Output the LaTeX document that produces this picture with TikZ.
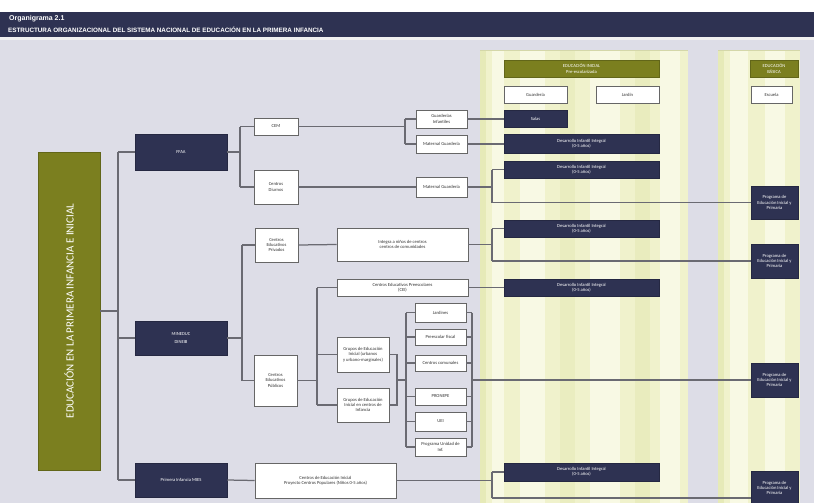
\documentclass[tikz,border=0pt]{standalone}
\usepackage{fontspec}
\setmainfont{Carlito}
\newfontfamily\hdrfont{Liberation Sans}
\usetikzlibrary{calc}
\definecolor{navy}{HTML}{2E3252}
\definecolor{olivegr}{HTML}{7B7F1F}
\definecolor{bgl}{HTML}{DDDDE7}
\definecolor{linec}{HTML}{6A6A72}
\definecolor{colA}{HTML}{F0F2CC}
\definecolor{colB}{HTML}{F8F9E4}
\definecolor{colC}{HTML}{E6EAB8}
\begin{document}
\begin{tikzpicture}[x=1pt,y=-1pt,
  box/.style={inner sep=0pt, align=center, font=\fontsize{4.6}{5.4}\selectfont},
  dark/.style={box, fill=navy, text=white, draw=navy!80!black, line width=0.5pt},
  wbox/.style={box, fill=white, draw=gray!80!black, line width=0.9pt, text=black!80},
  gbox/.style={box, fill=olivegr, text=white, draw=olivegr!80!black, line width=0.5pt},
  conn/.style={draw=linec, line width=1.25pt}]
\useasboundingbox (0,0) rectangle (814,503);
% background
\fill[white] (0,0) rectangle (814,503);
\fill[bgl] (0,40) rectangle (814,503);
\fill[navy] (0,12) rectangle (814,37);
\fill[gray!12] (0,37) rectangle (814,40);
% column 1
\fill[colA] (480,50) rectangle (688,503);
\fill[colC] (480,50) rectangle (486,503);
\fill[colB] (492,50) rectangle (504,503);
\fill[colB] (520,50) rectangle (545,503);
\fill[colC!60!colA] (560,50) rectangle (575,503);
\fill[colB] (590,50) rectangle (620,503);
\fill[colC!70!colA] (635,50) rectangle (650,503);
\fill[colB] (660,50) rectangle (680,503);
\draw[colC!80!black!40!colC, line width=0.6pt] (480,50) -- (688,50);
% column 2
\fill[colA] (718,50) rectangle (800,503);
\fill[colC] (718,50) rectangle (724,503);
\fill[colB] (730,50) rectangle (748,503);
\fill[colB] (765,50) rectangle (785,503);
\draw[colC!80!black!40!colC, line width=0.6pt] (718,50) -- (800,50);
% header
\node[anchor=west, text=white, inner sep=0pt, font=\hdrfont\bfseries\fontsize{7}{8}\selectfont] (title) at (9,19) {Organigrama 2.1};
\node[anchor=west, text=white, inner sep=0pt, font=\hdrfont\bfseries\fontsize{6.3}{7}\selectfont] (subtitle) at (8,30) {ESTRUCTURA ORGANIZACIONAL DEL SISTEMA NACIONAL DE EDUCACIÓN EN LA PRIMERA INFANCIA};
% main
\node[gbox, minimum width=62, minimum height=318] (main) at (69,311) {\rotatebox{90}{\fontsize{11}{12}\selectfont EDUCACIÓN EN LA PRIMERA INFANCIA E INICIAL}};
% level 1
\node[dark, minimum width=92, minimum height=36] (ffaa) at (181,152) {FFAA};
\node[dark, minimum width=92, minimum height=34] (mined) at (181,338) {MINEDUC\\[2pt]DINEIB};
\node[dark, minimum width=92, minimum height=34] (mies) at (181,480) {Primera Infancia MIES};
% level 2
\node[wbox, minimum width=44, minimum height=17] (cem) at (276,126.5) {CEM};
\node[wbox, minimum width=44, minimum height=34] (cdiur) at (276,187) {Centros\\Diurnos};
\node[wbox, minimum width=43, minimum height=34] (priv) at (276.5,245) {Centros\\Educativos\\Privados};
\node[wbox, minimum width=43, minimum height=51] (pub) at (275.5,380.5) {Centros\\Educativos\\Públicos};
\node[wbox, minimum width=141, minimum height=35] (cinic) at (325.5,480.5) {Centros de Educación Inicial\\Proyecto Centros Populares (Niños 0-5 años)};
% level 3
\node[wbox, minimum width=51, minimum height=18] (guard) at (441.5,119) {Guarderías\\Infantiles};
\node[wbox, minimum width=51, minimum height=18] (mat1) at (441.5,144) {Maternal Guardería};
\node[wbox, minimum width=51, minimum height=20] (mat2) at (441.5,187) {Maternal Guardería};
\node[wbox, minimum width=131, minimum height=33] (integ) at (402.5,244.5) {Integra a niños de centros\\ centros de comunidades};
\node[wbox, minimum width=131, minimum height=17] (cei) at (402.5,287.5) {Centros Educativos Preescolares\\(CEI)};
\node[wbox, minimum width=52, minimum height=35] (gr1) at (363,354.5) {Grupos de Educación\\Inicial (urbanos\\y urbano-marginales)};
\node[wbox, minimum width=52, minimum height=34] (gr2) at (363,405) {Grupos de Educación\\Inicial en centros de\\Infancia};
\node[wbox, minimum width=51, minimum height=19] (r1) at (440.5,312.5) {Jardines};
\node[wbox, minimum width=51, minimum height=16] (r2) at (440.5,337) {Preescolar fiscal};
\node[wbox, minimum width=51, minimum height=16] (r3) at (440.5,363) {Centros comunales};
\node[wbox, minimum width=51, minimum height=17] (r4) at (440.5,396.5) {PRONEPE};
\node[wbox, minimum width=51, minimum height=19] (r5) at (440.5,421.5) {UEI};
\node[wbox, minimum width=51, minimum height=18] (r6) at (440.5,447) {Programa Unidad de\\Inf.};
% column 1 boxes
\node[gbox, minimum width=155, minimum height=17] (hdr1) at (581.5,68.5) {EDUCACIÓN INICIAL\\Pre-escolarizada};
\node[wbox, minimum width=63, minimum height=17] (wb1) at (535.5,94.5) {Guardería};
\node[wbox, minimum width=63, minimum height=17] (wb2) at (627.5,94.5) {Jardín};
\node[dark, minimum width=63, minimum height=17] (salas) at (535.5,119) {Salas};
\node[dark, minimum width=155, minimum height=19] (d1) at (581.5,144) {Desarrollo Infantil Integral\\(0-5 años)};
\node[dark, minimum width=155, minimum height=17] (d2) at (581.5,169.5) {Desarrollo Infantil Integral\\(0-5 años)};
\node[dark, minimum width=155, minimum height=17] (d3) at (581.5,228.5) {Desarrollo Infantil Integral\\(0-5 años)};
\node[dark, minimum width=155, minimum height=17] (d4) at (581.5,287.5) {Desarrollo Infantil Integral\\(0-5 años)};
\node[dark, minimum width=155, minimum height=18] (d5) at (581.5,472) {Desarrollo Infantil Integral\\(0-5 años)};
% column 2 boxes
\node[gbox, minimum width=48, minimum height=17] (hdr2) at (774,68.5) {EDUCACIÓN\\BÁSICA};
\node[wbox, minimum width=41, minimum height=17] (wb3) at (771.5,94.5) {Escuela};
\node[dark, minimum width=47, minimum height=33] (p1) at (774.5,202.5) {Programa de\\Educación Inicial y\\Primaria};
\node[dark, minimum width=47, minimum height=34] (p2) at (774.5,261) {Programa de\\Educación Inicial y\\Primaria};
\node[dark, minimum width=47, minimum height=34] (p3) at (774.5,380) {Programa de\\Educación Inicial y\\Primaria};
\node[dark, minimum width=47, minimum height=34] (p4) at (774.5,488) {Programa de\\Educación Inicial y\\Primaria};
% trunk
\coordinate (tk) at (118,0);
\draw[conn] (main.east) -- (main.east -| tk);
\draw[conn] (ffaa.west -| tk) -- (mies.west -| tk);
\draw[conn] (ffaa.west -| tk) -- (ffaa.west);
\draw[conn] (mined.west -| tk) -- (mined.west);
\draw[conn] (mies.west -| tk) -- (mies.west);
% FFAA branch
\coordinate (b1) at (240,0);
\draw[conn] (ffaa.east) -- (ffaa.east -| b1);
\draw[conn] (cem.west -| b1) -- (cdiur.west -| b1);
\draw[conn] (cem.west -| b1) -- (cem.west);
\draw[conn] (cdiur.west -| b1) -- (cdiur.west);
\coordinate (b2) at (405,0);
\draw[conn] (cem.east) -- (cem.east -| b2);
\draw[conn] (guard.west -| b2) -- (mat1.west -| b2);
\draw[conn] (guard.west -| b2) -- (guard.west);
\draw[conn] (mat1.west -| b2) -- (mat1.west);
\draw[conn] (cdiur.east) -- (mat2.west);
\draw[conn] (guard.east) -- (salas.west);
\draw[conn] (mat1.east) -- (d1.west);
\coordinate (b3) at (492,0);
\draw[conn] (mat2.east) -- (mat2.east -| b3);
\draw[conn] (d2.west -| b3) -- (p1.west -| b3);
\draw[conn] (d2.west -| b3) -- (d2.west);
\draw[conn] (p1.west -| b3) -- (p1.west);
% MINEDUC branch
\coordinate (b4) at (242,0);
\draw[conn] (mined.east) -- (mined.east -| b4);
\draw[conn] (priv.west -| b4) -- (pub.west -| b4);
\draw[conn] (priv.west -| b4) -- (priv.west);
\draw[conn] (pub.west -| b4) -- (pub.west);
\draw[conn] (priv.east) -- (integ.west);
\draw[conn] (integ.east) -- (integ.east -| b3);
\draw[conn] (d3.west -| b3) -- (p2.west -| b3);
\draw[conn] (d3.west -| b3) -- (d3.west);
\draw[conn] (p2.west -| b3) -- (p2.west);
\coordinate (b5) at (317,0);
\draw[conn] (pub.east) -- (pub.east -| b5);
\draw[conn] (cei.west -| b5) -- (gr2.west -| b5);
\draw[conn] (cei.west -| b5) -- (cei.west);
\draw[conn] (gr1.west -| b5) -- (gr1.west);
\draw[conn] (gr2.west -| b5) -- (gr2.west);
\draw[conn] (cei.east) -- (d4.west);
\coordinate (b6) at (397,0);
\coordinate (b7) at (406,0);
\coordinate (mid) at (397,380);
\draw[conn] (gr1.east) -- (gr1.east -| b6) -- (gr2.east -| b6) -- (gr2.east);
\draw[conn] (mid) -- (mid -| b7);
\draw[conn] (r1.west -| b7) -- (r6.west -| b7);
\foreach \r in {r1,r2,r3,r4,r5,r6}{\draw[conn] (\r.west -| b7) -- (\r.west);}
\coordinate (b8) at (472,0);
\foreach \r in {r1,r2,r3,r4,r5,r6}{\draw[conn] (\r.east) -- (\r.east -| b8);}
\draw[conn] (r1.east -| b8) -- (r6.east -| b8);
\draw[conn] (p3.west -| b8) -- (p3.west);
% MIES branch
\draw[conn] (mies.east) -- (cinic.west);
\coordinate (j5) at (492,498);
\draw[conn] (cinic.east) -- (cinic.east -| b3);
\draw[conn] (d5.west -| b3) -- (j5);
\draw[conn] (d5.west -| b3) -- (d5.west);
\draw[conn] (j5) -- (p4.west |- j5);
\end{tikzpicture}
\end{document}
